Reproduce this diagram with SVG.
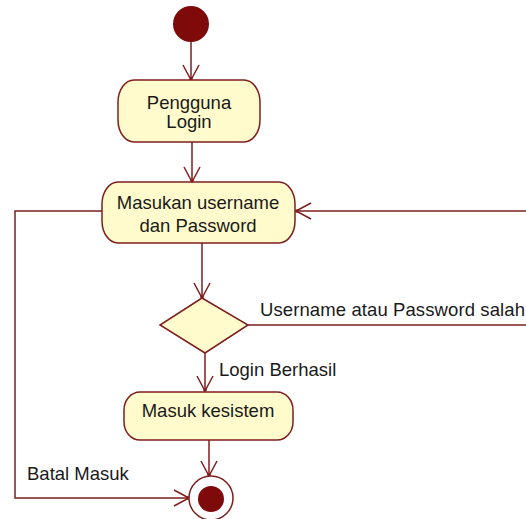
<svg xmlns="http://www.w3.org/2000/svg" width="526" height="519" viewBox="0 0 526 519">
<style>
.act{fill:#FFFBCC;stroke:#7F1E1E;stroke-width:1.5}
.line{fill:none;stroke:#7F1E1E;stroke-width:1.5}
.t{font-family:"Liberation Sans",Arial,sans-serif;font-size:18.5px;fill:#1a1a1a}
.c{text-anchor:middle}
</style>
<defs>
<marker id="arr" markerUnits="userSpaceOnUse" markerWidth="20" markerHeight="20" viewBox="-17 -10 19 20" refX="0" refY="0" orient="auto">
<path d="M-15,-8 L0,0 L-15,8" fill="none" stroke="#7F1E1E" stroke-width="1.5"/>
<circle cx="-1" cy="0" r="1.8" fill="#7F1E1E"/>
</marker>
</defs>
<rect width="526" height="519" fill="#fff"/>
<g id="connectors">
<line class="line" x1="191" y1="42" x2="191" y2="80" marker-end="url(#arr)"/>
<line class="line" x1="192" y1="142" x2="192" y2="182" marker-end="url(#arr)"/>
<line class="line" x1="202" y1="243" x2="202" y2="298" marker-end="url(#arr)"/>
<line class="line" x1="205" y1="353" x2="205" y2="391" marker-end="url(#arr)"/>
<line class="line" x1="209" y1="440" x2="209" y2="476" marker-end="url(#arr)"/>
<polyline class="line" points="102,211 15,211 15,498 189,498" marker-end="url(#arr)"/>
<polyline class="line" points="248,325 540,325 540,211 296,211" marker-end="url(#arr)"/>
<text class="t" x="260" y="316" letter-spacing="0.1">Username atau Password salah</text>
<text class="t" x="219" y="376">Login Berhasil</text>
<text class="t" x="27" y="480">Batal Masuk</text>
</g>
<g id="start"><circle cx="191" cy="24" r="18" fill="#7F0A0A"/></g>
<g id="pengguna-login">
<rect class="act" x="118" y="80" width="142" height="62" rx="16" ry="22"/>
<text class="t c" x="189" y="109">Pengguna</text>
<text class="t c" x="189" y="128">Login</text>
</g>
<g id="masukan">
<rect class="act" x="102" y="182" width="193" height="61" rx="16" ry="22"/>
<text class="t c" x="198" y="209">Masukan username</text>
<text class="t c" x="198" y="232">dan Password</text>
</g>
<g id="decision">
<polygon class="act" points="202,298 248,325 205,353 160,325"/>
</g>
<g id="masuk-kesistem">
<rect class="act" x="124" y="392" width="169" height="48" rx="16" ry="18"/>
<text class="t c" x="208" y="417">Masuk kesistem</text>
</g>
<g id="end">
<circle cx="211" cy="498" r="22" fill="#fff" stroke="#7F1E1E" stroke-width="1.5"/>
<circle cx="211" cy="499" r="13" fill="#7F0A0A"/>
</g>
</svg>
